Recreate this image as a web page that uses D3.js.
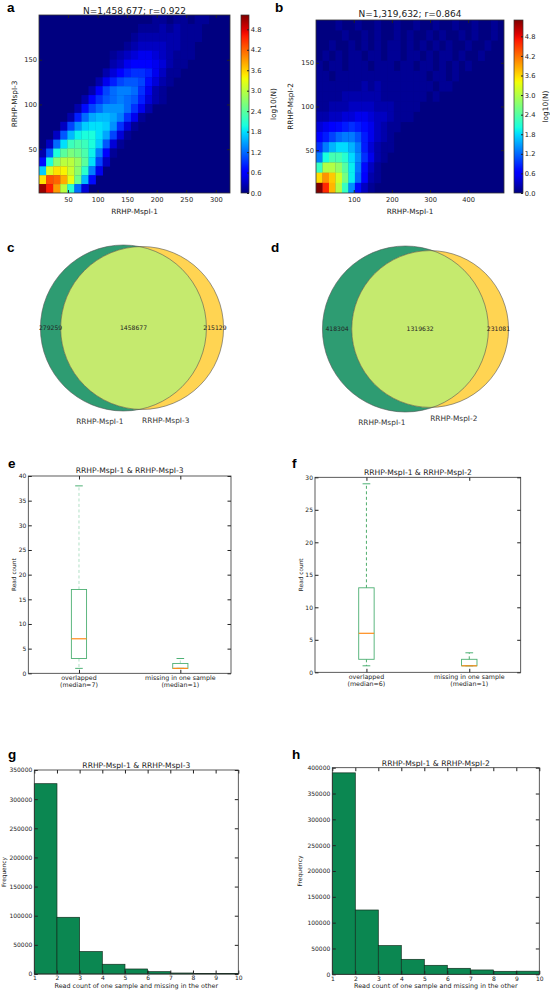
<!DOCTYPE html>
<html>
<head>
<meta charset="utf-8">
<script src="https://cdn.jsdelivr.net/npm/d3@7"></script>
<style>
  body { margin: 0; background: #fff; }
  text { font-family: "DejaVu Sans", sans-serif; fill: #222; }
  .letter { font-family: "Liberation Sans", Arial, sans-serif; font-weight: bold; font-size: 13.5px; fill: #000; }
</style>
</head>
<body>
<svg id="fig" width="550" height="990"></svg>
<script>
// ---------- data ----------
// 2D histograms, log10(N) per bin. Each row = [first column index, values...],
// rows go from the top (high y) to the bottom (low y).
const heatA = [
  [16, .1,.1,0,.1,.1,0,.1,.1],
  [14, .1,.1,.1,.2,.1,.2,.1,.1,.1,0],
  [13, .1,.2,.2,.2,.2,.2,.2,.1,.1,.1],
  [12, .1,.2,.3,.3,.3,.3,.2,.2,.1,.1],
  [10, .1,.2,.3,.4,.5,.5,.4,.3,.2,.1,.1,.1],
  [10, .2,.3,.5,.6,.6,.6,.5,.4,.2,.1,.1],
  [9,  .2,.4,.6,.8,.9,.9,.8,.5,.3,.1,.1],
  [8,  .2,.5,.8,1.0,1.1,1.1,1.0,.7,.4,.2,.1],
  [7,  .2,.6,1.0,1.2,1.3,1.3,1.2,.9,.5,.2,.1],
  [6,  .2,.6,.9,1.1,1.2,1.3,1.2,1.1,.8,.4,.2,.1],
  [5,  .2,.7,1.0,1.2,1.4,1.4,1.4,1.2,.9,.5,.2],
  [4,  .2,.8,1.2,1.5,1.6,1.6,1.5,1.3,.9,.5,.1],
  [3,  .3,1.0,1.4,1.7,1.8,1.8,1.7,1.4,.9,.4,.1],
  [2,  .3,1.1,1.6,1.9,2.0,2.0,1.8,1.5,1.0,.4,.1],
  [1,  .3,1.2,1.8,2.2,2.3,2.2,2.0,1.7,1.1,.4,.1],
  [0,  .2,1.1,2.0,2.4,2.6,2.5,2.3,1.9,1.3,.6,.1],
  [0,  .7,2.0,2.7,3.0,3.0,2.8,2.4,1.8,1.0,.3],
  [0,  1.7,3.2,3.5,3.4,3.1,2.7,2.1,1.3,.5],
  [0,  3.5,4.3,4.2,3.8,3.3,2.5,1.6,.7],
  [0,  5.1,4.6,3.9,3.0,2.1,1.2,.4]
];
const heatACols = 27;
const heatB = [
  [3, .1,0,0,.1,0,0,.1,0,0,.1,0,0,.1,0,0,.1,0,0,.1,0,0,.1,0,0,.1,0],
  [2, 0,0,.1,0,0,.1,0,.1,0,0,.1,0,.1,0,0,.1,0,.1,0,0,.1,0,.1,0,0,.1,0],
  [1, 0,.1,0,0,.1,0,.1,0,.1,0,.1,.1,0,.1,0,.1,0,.1,0,.1,0,0,.1,0,0,.1],
  [0, 0,.1,0,.1,0,.1,.1,0,.1,.1,0,.1,.1,0,.1,.1,0,.1,0,.1,.1,0,.1,0,0,.1],
  [0, .1,0,.1,.1,0,.1,.1,.1,0,.1,.1,.1,0,.1,.1,0,.1,.1,0,.1,0,.1,0,.1,0],
  [0, .1,.1,0,.1,.1,.1,.1,.1,.1,.1,.1,.1,.1,.1,.1,.1,.1,0,.1,.1,0,.1],
  [0, .1,.1,.1,.1,.1,.1,.1,.2,.1,.2,.1,.1,.1,.1,.1,.1,.1,.1,0,.1,.1],
  [0, .1,.1,.1,.1,.2,.2,.2,.2,.2,.2,.1,.1,.1,.1,.1,.1,.1,0,.1],
  [0, .1,.1,.2,.2,.2,.3,.3,.3,.3,.2,.2,.2,.1,.1,.1,.1],
  [0, .2,.2,.3,.3,.4,.4,.5,.5,.4,.3,.3,.2,.1,.1,.1],
  [0, .4,.5,.6,.7,.8,.9,.8,.7,.5,.3,.2,.1,.1],
  [0, .6,.8,1.0,1.2,1.3,1.3,1.1,.8,.5,.3,.2,.1],
  [0, .9,1.3,1.6,1.8,1.8,1.6,1.3,.8,.4,.2,.1,.1],
  [0, 1.3,2.0,2.3,2.3,2.1,1.8,1.4,.9,.5,.2,.1],
  [0, 2.2,3.0,3.0,2.8,2.4,1.9,1.3,.7,.3,.1],
  [0, 3.6,4.0,3.7,3.2,2.6,1.9,1.2,.6,.2,.1],
  [0, 5.3,4.6,3.8,3.0,2.2,1.4,.7,.3,.1]
];
const heatBCols = 29;

const heatADomainX = [1, 324], heatADomainY = [1, 200];
const heatBDomainX = [1, 494], heatBDomainY = [1, 199];
const cbarMax = [5.22, 5.3];
const cbarTicks = [0, 0.6, 1.2, 1.8, 2.4, 3.0, 3.6, 4.2, 4.8];
const heatATicksX = [50, 100, 150, 200, 250, 300];
const heatBTicksX = [100, 200, 300, 400];
const heatTicksY = [50, 100, 150];
const heatTitles = ["N=1,458,677; r=0.922", "N=1,319,632; r=0.864"];
const heatYLabels = ["RRHP-MspI-3", "RRHP-MspI-2"];
const xSampleLabel = "RRHP-MspI-1";

// Venn: [only sample 1, overlap, only other sample]
const vennC = [279259, 1458677, 215129];
const vennD = [418304, 1319632, 231081];
const vennLabelsC = ["RRHP-MspI-1", "RRHP-MspI-3"];
const vennLabelsD = ["RRHP-MspI-1", "RRHP-MspI-2"];

// Box plots
const boxCats = ["overlapped", "missing in one sample"];
const boxPos = [1, 2];
const boxE = [{lo: 1, q1: 3, med: 7, q3: 17, hi: 38}, {lo: 1, q1: 1, med: 1, q3: 2, hi: 3}];
const boxF = [{lo: 1, q1: 2, med: 6, q3: 13, hi: 29}, {lo: 1, q1: 1, med: 1, q3: 2, hi: 3}];
const boxETicks = [0, 5, 10, 15, 20, 25, 30, 35, 40];
const boxFTicks = [0, 5, 10, 15, 20, 25, 30];

// Histograms
const histEdges = [1, 2, 3, 4, 5, 6, 7, 8, 9, 10];
const histG = [326500, 97300, 38500, 16700, 8600, 4000, 1700, 1100, 700];
const histH = [390000, 124500, 55500, 29000, 17400, 11600, 8400, 5800, 6000];
const histGTicks = [0, 50000, 100000, 150000, 200000, 250000, 300000, 350000];
const histHTicks = [0, 50000, 100000, 150000, 200000, 250000, 300000, 350000, 400000];
const pairTitles = ["RRHP-MspI-1 & RRHP-MspI-3", "RRHP-MspI-1 & RRHP-MspI-2"];

// ---------- helpers ----------
const svg = d3.select("#fig");
const FONT = '"DejaVu Sans", sans-serif';

// matplotlib "jet"
const JET = {
  r: [[0, 0], [0.35, 0], [0.66, 1], [0.89, 1], [1, 0.5]],
  g: [[0, 0], [0.125, 0], [0.375, 1], [0.64, 1], [0.91, 0], [1, 0]],
  b: [[0, 0.5], [0.11, 1], [0.34, 1], [0.65, 0], [1, 0]]
};
function chan(t, pts) {
  for (let i = 1; i < pts.length; i++) {
    if (t <= pts[i][0]) {
      const [x0, y0] = pts[i - 1], [x1, y1] = pts[i];
      return y0 + (y1 - y0) * (t - x0) / (x1 - x0);
    }
  }
  return pts[pts.length - 1][1];
}
function jet(t) {
  t = Math.max(0, Math.min(1, t));
  return d3.rgb(255 * chan(t, JET.r), 255 * chan(t, JET.g), 255 * chan(t, JET.b)).formatHex();
}

function txt(x, y, s, size, anchor, rot) {
  const t = svg.append("text").attr("font-size", size).attr("text-anchor", anchor || "middle").text(s);
  if (rot) t.attr("transform", `translate(${x},${y}) rotate(${rot})`);
  else t.attr("x", x).attr("y", y);
  return t;
}
function letter(x, y, s) {
  svg.append("text").attr("class", "letter").attr("x", x).attr("y", y).text(s);
}

// axes with inward ticks on all four sides, labels left and bottom
function axes(box, xs, ys, xt, yt, o) {
  const L = o.tick || 3.5;
  const g = svg.append("g");
  const fix = s => s.attr("font-size", o.fs).attr("font-family", FONT).attr("color", "#222")
    .call(a => a.select(".domain").remove());
  g.append("g").attr("transform", `translate(0,${box.y + box.h})`)
    .call(d3.axisBottom(xs).tickValues(xt).tickSize(-L).tickPadding(o.xpad)
      .tickFormat(o.xfmt === undefined ? (d => d) : o.xfmt)).call(fix);
  g.append("g").attr("transform", `translate(0,${box.y})`)
    .call(d3.axisTop(xs).tickValues(xt).tickSize(-L).tickFormat("")).call(fix);
  g.append("g").attr("transform", `translate(${box.x},0)`)
    .call(d3.axisLeft(ys).tickValues(yt).tickSize(-L).tickPadding(o.ypad).tickFormat(d => d)).call(fix);
  g.append("g").attr("transform", `translate(${box.x + box.w},0)`)
    .call(d3.axisRight(ys).tickValues(yt).tickSize(-L).tickFormat("")).call(fix);
  svg.append("rect").attr("x", box.x).attr("y", box.y).attr("width", box.w).attr("height", box.h)
    .attr("fill", "none").attr("stroke", "#333").attr("stroke-width", 0.8);
}

// ---------- a, b: 2D histograms ----------
function heatPanel(box, cbar, rows, nCols, dx, dy, xt, cmax, id) {
  const xs = d3.scaleLinear().domain(dx).range([box.x, box.x + box.w]);
  const ys = d3.scaleLinear().domain(dy).range([box.y + box.h, box.y]);
  const nRows = rows.length;
  const cells = [];
  rows.forEach((row, r) => {
    row.slice(1).forEach((v, k) => { if (v > 0) cells.push({c: row[0] + k, r: nRows - 1 - r, v}); });
  });
  const bx = i => xs(dx[0] + i * (dx[1] - dx[0]) / nCols);
  const by = j => ys(dy[0] + j * (dy[1] - dy[0]) / nRows);

  svg.append("clipPath").attr("id", "clip" + id).append("rect")
    .attr("x", box.x).attr("y", box.y).attr("width", box.w).attr("height", box.h);
  const g = svg.append("g").attr("clip-path", `url(#clip${id})`);
  g.append("rect").attr("x", box.x).attr("y", box.y).attr("width", box.w).attr("height", box.h)
    .attr("fill", jet(0));
  g.selectAll("rect.cell").data(cells).join("rect").attr("class", "cell")
    .attr("x", d => bx(d.c)).attr("width", d => bx(d.c + 1) - bx(d.c) + 0.3)
    .attr("y", d => by(d.r + 1)).attr("height", d => by(d.r) - by(d.r + 1) + 0.3)
    .attr("fill", d => jet(d.v / cmax));

  axes(box, xs, ys, xt, heatTicksY, {fs: 6.7, xpad: 4.5, ypad: 2, tick: 3});

  // colorbar
  const grad = svg.append("defs").append("linearGradient").attr("id", "grad" + id)
    .attr("x1", 0).attr("y1", 1).attr("x2", 0).attr("y2", 0);
  d3.range(0, 1.0001, 0.02).forEach(t => grad.append("stop").attr("offset", t).attr("stop-color", jet(t)));
  svg.append("rect").attr("x", cbar.x).attr("y", cbar.y).attr("width", cbar.w).attr("height", cbar.h)
    .attr("fill", `url(#grad${id})`).attr("stroke", "#333").attr("stroke-width", 0.7);
  const cs = d3.scaleLinear().domain([0, cmax]).range([cbar.y + cbar.h, cbar.y]);
  svg.append("g").attr("transform", `translate(${cbar.x + cbar.w},0)`)
    .call(d3.axisRight(cs).tickValues(cbarTicks).tickSize(-2).tickPadding(1.8).tickFormat(d3.format(".1f")))
    .attr("font-size", 6.7).attr("font-family", FONT).attr("color", "#222")
    .call(a => a.select(".domain").remove());
  return {xs, ys};
}

const boxA = {x: 39, y: 15, w: 191, h: 178};
const boxB = {x: 316, y: 20, w: 188, h: 173};
heatPanel(boxA, {x: 241, y: 15, w: 8, h: 178}, heatA, heatACols, heatADomainX, heatADomainY, heatATicksX, cbarMax[0], "a");
heatPanel(boxB, {x: 514, y: 20, w: 9, h: 173}, heatB, heatBCols, heatBDomainX, heatBDomainY, heatBTicksX, cbarMax[1], "b");

txt(boxA.x + boxA.w / 2, 13.5, heatTitles[0], 9);
txt(boxB.x + boxB.w / 2, 16.5, heatTitles[1], 9);
txt(boxA.x + boxA.w / 2, 213.5, xSampleLabel, 7.3);
txt(boxB.x + boxB.w / 2, 213.5, xSampleLabel, 7.3);
txt(16.6, boxA.y + boxA.h / 2, heatYLabels[0], 7.3, "middle", -90);
txt(293.3, boxB.y + boxB.h / 2, heatYLabels[1], 7.3, "middle", -90);
txt(275.5, boxA.y + boxA.h / 2, "log10(N)", 7.4, "middle", -90);
txt(547.5, boxB.y + boxB.h / 2, "log10(N)", 7.4, "middle", -90);
letter(7, 11.5, "a");
letter(275, 11.5, "b");

// ---------- c, d: Venn diagrams ----------
const vennTotals = [vennC, vennD].flatMap(v => [v[0] + v[1], v[1] + v[2]]);
const vennR = d3.scaleSqrt().domain([0, d3.max(vennTotals)]).range([0, 83]);

function lensArea(d, r1, r2) {
  if (d >= r1 + r2) return 0;
  if (d <= Math.abs(r1 - r2)) return Math.PI * Math.min(r1, r2) ** 2;
  const a1 = r1 * r1 * Math.acos((d * d + r1 * r1 - r2 * r2) / (2 * d * r1));
  const a2 = r2 * r2 * Math.acos((d * d + r2 * r2 - r1 * r1) / (2 * d * r2));
  const k = 0.5 * Math.sqrt((-d + r1 + r2) * (d + r1 - r2) * (d - r1 + r2) * (d + r1 + r2));
  return a1 + a2 - k;
}

function venn(sizes, labels, midX, cy, id) {
  const rA = vennR(sizes[0] + sizes[1]), rB = vennR(sizes[1] + sizes[2]);
  const target = sizes[1] / (sizes[0] + sizes[1]) * Math.PI * rA * rA;
  let lo = Math.abs(rA - rB), hi = rA + rB;
  for (let i = 0; i < 60; i++) {
    const m = (lo + hi) / 2;
    if (lensArea(m, rA, rB) > target) lo = m; else hi = m;
  }
  const d = (lo + hi) / 2;
  const cxA = midX - (d + rB - rA) / 2, cxB = cxA + d;

  svg.append("clipPath").attr("id", "vclip" + id).append("circle")
    .attr("cx", cxB).attr("cy", cy).attr("r", rB);
  svg.append("circle").attr("cx", cxA).attr("cy", cy).attr("r", rA).attr("fill", "#2e9c72");
  svg.append("circle").attr("cx", cxB).attr("cy", cy).attr("r", rB).attr("fill", "#ffd452");
  svg.append("circle").attr("cx", cxA).attr("cy", cy).attr("r", rA).attr("fill", "#c5ea6e")
    .attr("clip-path", `url(#vclip${id})`);
  [[cxA, rA], [cxB, rB]].forEach(([cx, r]) =>
    svg.append("circle").attr("cx", cx).attr("cy", cy).attr("r", r)
      .attr("fill", "none").attr("stroke", "#555").attr("stroke-width", 0.6));

  const edges = [cxA - rA, cxB - rB, cxA + rA, cxB + rB];
  sizes.forEach((s, i) => txt((edges[i] + edges[i + 1]) / 2, cy, s, 6.1).attr("dy", "0.35em"));
  txt(cxA, cy + rA + 13.4, labels[0], 7.4, "end").style("fill", "#333");
  txt(cxB, cy + rB + 13.4, labels[1], 7.4, "start").style("fill", "#333");
}
venn(vennC, vennLabelsC, 132, 328, "c");
venn(vennD, vennLabelsD, 415.5, 329, "d");
letter(7, 252, "c");
letter(271, 252, "d");

// ---------- e, f: box plots ----------
function boxPanel(box, stats, yDomain, yt, title, whiskerColor) {
  const xs = d3.scaleLinear().domain([0.5, 2.5]).range([box.x, box.x + box.w]);
  const ys = d3.scaleLinear().domain(yDomain).range([box.y + box.h, box.y]);
  axes(box, xs, ys, boxPos, yt, {fs: 6, xpad: 2, ypad: 2, tick: 3.5, xfmt: ""});
  const w = 0.15;
  const g = svg.append("g");
  stats.forEach((s, i) => {
    const p = boxPos[i];
    const xc = xs(p);
    [[s.q3, s.hi], [s.q1, s.lo]].forEach(([a, b]) =>
      g.append("line").attr("x1", xc).attr("x2", xc).attr("y1", ys(a)).attr("y2", ys(b))
        .attr("stroke", whiskerColor).attr("stroke-width", 0.9).attr("stroke-dasharray", "3,2.5"));
    [s.hi, s.lo].forEach(v =>
      g.append("line").attr("x1", xs(p - w / 4)).attr("x2", xs(p + w / 4)).attr("y1", ys(v)).attr("y2", ys(v))
        .attr("stroke", "#3aa865").attr("stroke-width", 0.9));
    g.append("rect").attr("x", xs(p - w / 2)).attr("width", xs(p + w / 2) - xs(p - w / 2))
      .attr("y", ys(s.q3)).attr("height", ys(s.q1) - ys(s.q3))
      .attr("fill", "none").attr("stroke", "#4caf72").attr("stroke-width", 0.9);
    g.append("line").attr("x1", xs(p - w / 2)).attr("x2", xs(p + w / 2)).attr("y1", ys(s.med)).attr("y2", ys(s.med))
      .attr("stroke", "#ff8c1a").attr("stroke-width", 1.2);
    txt(xc, box.y + box.h + 6.3, boxCats[i], 6.3);
    txt(xc, box.y + box.h + 13.3, `(median=${s.med})`, 6.3);
  });
  txt(box.x + box.w / 2, box.y - 2.6, title, 7.6);
}
const boxEBox = {x: 28.3, y: 476, w: 202.7, h: 197.3};
const boxFBox = {x: 315, y: 477.3, w: 205.7, h: 195};
boxPanel(boxEBox, boxE, [0, 40], boxETicks, pairTitles[0], "#a9dcc0");
boxPanel(boxFBox, boxF, [0, 30], boxFTicks, pairTitles[1], "#3aa35a");
txt(16.2, boxEBox.y + boxEBox.h / 2, "Read count", 5.8, "middle", -90);
txt(302.5, boxFBox.y + boxFBox.h / 2, "Read count", 5.8, "middle", -90);
letter(8, 467.5, "e");
letter(292, 467.5, "f");

// ---------- g, h: histograms ----------
function histPanel(box, counts, yMax, yt, title, titleY) {
  const xs = d3.scaleLinear().domain([histEdges[0], histEdges[histEdges.length - 1]]).range([box.x, box.x + box.w]);
  const ys = d3.scaleLinear().domain([0, yMax]).range([box.y + box.h, box.y]);
  const bins = counts.map((c, i) => ({x0: histEdges[i], x1: histEdges[i + 1], c}));
  svg.append("g").selectAll("rect").data(bins).join("rect")
    .attr("x", d => xs(d.x0)).attr("width", d => xs(d.x1) - xs(d.x0))
    .attr("y", d => ys(d.c)).attr("height", d => ys(0) - ys(d.c))
    .attr("fill", "#0b8751").attr("stroke", "#12301f").attr("stroke-width", 0.7);
  axes(box, xs, ys, histEdges, yt, {fs: 6, xpad: 2.2, ypad: 2, tick: 3.5});
  txt(box.x + box.w / 2, titleY, title, 7.6);
  txt(box.x + box.w / 2, 988, "Read count of one sample and missing in the other", 6.4);
}
const histGBox = {x: 34.3, y: 770, w: 204, h: 204};
const histHBox = {x: 332.3, y: 767.7, w: 207, h: 206.6};
histPanel(histGBox, histG, 350000, histGTicks, pairTitles[0], 768);
histPanel(histHBox, histH, 400000, histHTicks, pairTitles[1], 765.5);
txt(6.2, histGBox.y + histGBox.h / 2, "Frequency", 5.8, "middle", -90);
txt(302, histHBox.y + histHBox.h / 2, "Frequency", 6, "middle", -90);
letter(8, 758.5, "g");
letter(292, 758.5, "h");
</script>
</body>
</html>
